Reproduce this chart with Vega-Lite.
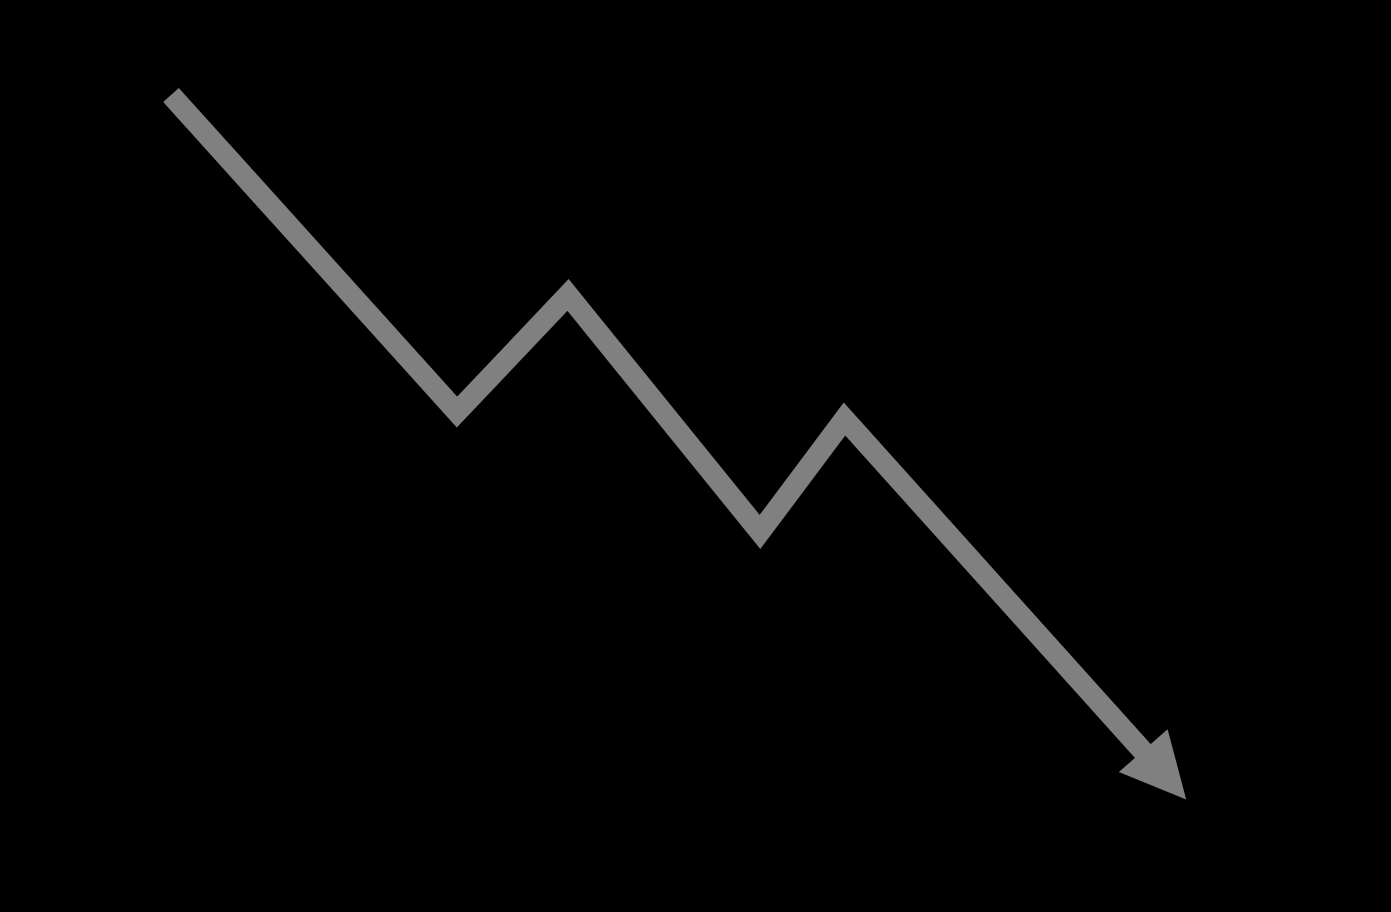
{
  "$schema": "https://vega.github.io/schema/vega-lite/v6.json",
  "width": 1391,
  "height": 912,
  "autosize": {"type": "fit", "contains": "padding"},
  "padding": 0,
  "background": "#000000",
  "config": {"view": {"stroke": null}},
  "datasets": {
    "path": [
      {"i": 0, "x": 171, "y": 95},
      {"i": 1, "x": 457, "y": 412},
      {"i": 2, "x": 568, "y": 295},
      {"i": 3, "x": 760, "y": 532},
      {"i": 4, "x": 844.5, "y": 419},
      {"i": 5, "x": 1150, "y": 759}
    ],
    "head": [
      {"x": 1164.7, "y": 775}
    ]
  },
  "layer": [
    {
      "data": {"name": "path"},
      "mark": {"type": "line", "color": "#808080", "strokeWidth": 21, "strokeCap": "butt", "strokeJoin": "miter"},
      "encoding": {
        "x": {"field": "x", "type": "quantitative", "axis": null, "scale": {"domain": [0, 1391], "nice": false, "zero": false}},
        "y": {"field": "y", "type": "quantitative", "axis": null, "scale": {"domain": [0, 912], "nice": false, "zero": false, "reverse": true}},
        "order": {"field": "i"}
      }
    },
    {
      "data": {"name": "head"},
      "mark": {"type": "point", "shape": "M0,-1L1,1L-1,1Z", "size": 4225, "angle": 138.6, "filled": true, "color": "#808080", "opacity": 1, "strokeWidth": 0},
      "encoding": {
        "x": {"field": "x", "type": "quantitative"},
        "y": {"field": "y", "type": "quantitative"}
      }
    }
  ]
}
